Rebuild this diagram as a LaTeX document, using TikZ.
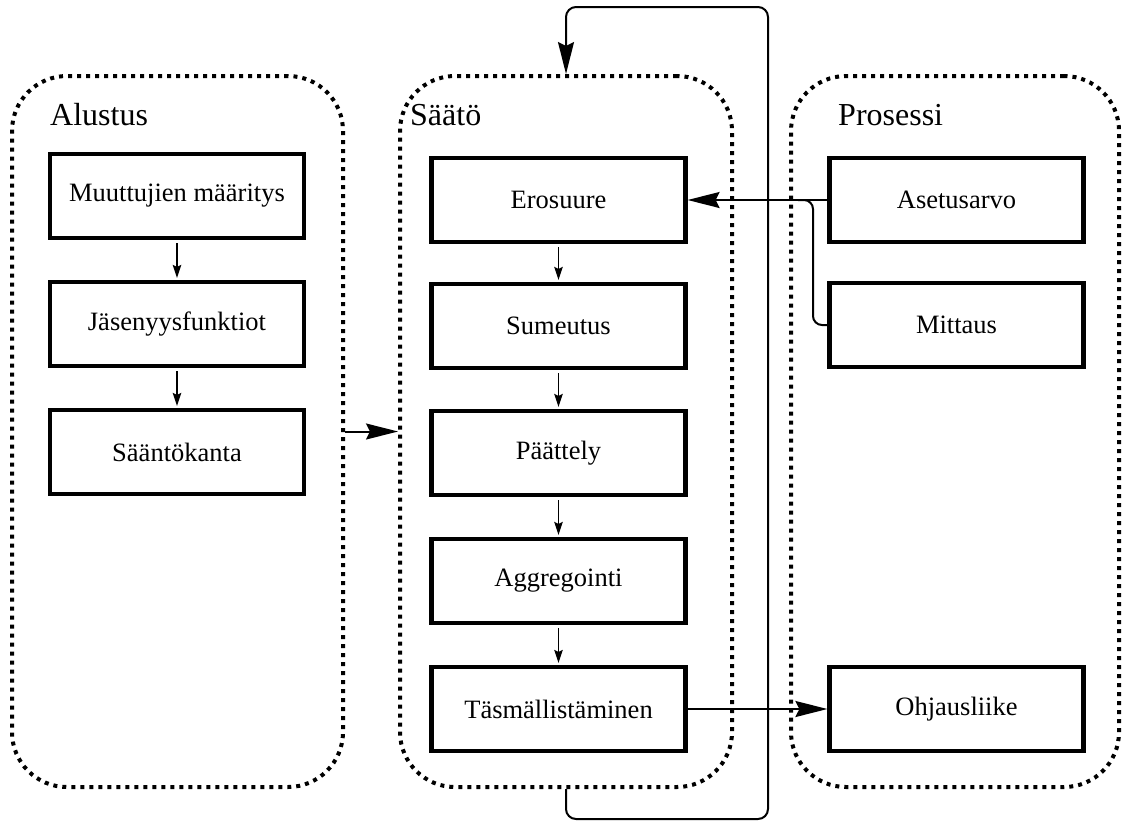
\documentclass[tikz,border=0pt]{standalone}
\usepackage{fontspec}
\setmainfont{Liberation Serif}
\usetikzlibrary{arrows.meta}
\begin{document}
\begin{tikzpicture}[x=1pt,y=-1pt,
  group/.style={draw, line width=4pt, dash pattern=on 4pt off 5pt,
    rounded corners=55pt, minimum width=#1, minimum height=711pt, inner sep=0pt},
  stage/.style={draw, line width=4.2pt, minimum width=254pt, minimum height=84pt,
    inner sep=0pt, font=\fontsize{26.5}{30}\selectfont},
  title/.style={anchor=base west, inner sep=0pt, font=\fontsize{32}{36}\selectfont},
  flow/.style={-{Stealth[length=13pt,width=8.5pt,inset=2pt]}, line width=1.5pt,
    shorten <=3pt, shorten >=2pt},
  link/.style={-{Stealth[length=32pt,width=16pt,inset=4pt]}, line width=2pt},
  feed/.style={line width=2pt},
]
\useasboundingbox (0,0) rectangle (1123,820);

% dotted groups
\node[group=331pt] (alustus) at (177.5,431.5) {};
\node[group=332pt] (saato)   at (566,431.5) {};
\node[group=328pt] (prosessi) at (955,431.5) {};

\node[title] (talustus) at (50,125) {Alustus};
\node[title] (tsaato) at (410,125) {Säätö};
\node[title] (tprosessi) at (838,125) {Prosessi};

% initialisation chain
\node[stage] (muuttujat) at (177,196) {Muuttujien määritys};
\node[stage] (jasenyys)  at (177,324) {Jäsenyysfunktiot};
\node[stage] (saannot)   at (177,452) {Sääntökanta};

% control chain
\node[stage] (erosuure) at (558.5,200) {Erosuure};
\node[stage] (sumeutus) at (558.5,326) {Sumeutus};
\node[stage] (paattely) at (558.5,453) {Päättely};
\node[stage] (aggreg)   at (558.5,581) {Aggregointi};
\node[stage] (tasm)     at (558.5,709) {Täsmällistäminen};

% process
\node[stage] (asetus)  at (956.5,200) {Asetusarvo};
\node[stage] (mittaus) at (956.5,325) {Mittaus};
\node[stage] (ohjaus)  at (956.5,709) {Ohjausliike};

\draw[flow] (muuttujat) -- (jasenyys);
\draw[flow] (jasenyys) -- (saannot);
\draw[flow] (erosuure) -- (sumeutus);
\draw[flow] (sumeutus) -- (paattely);
\draw[flow] (paattely) -- (aggreg);
\draw[flow] (aggreg) -- (tasm);

\draw[link] (alustus.east) -- (saato.west);
\draw[link] (asetus.west) -- (erosuure.east);
\draw[link] (tasm.east) -- (ohjaus.west);

% measurement joins the setpoint line
\coordinate (bend) at (813,0);
\coordinate (merge) at (798,200);
\draw[feed, rounded corners=9pt] (mittaus.west) -- (mittaus.west -| bend) |- (merge);

% loop back to the start of the control chain
\coordinate (loopr) at (768,7);
\draw[link, rounded corners=10pt] (saato.south) -- ++(0,30) -| (loopr) -| (saato.north);
\end{tikzpicture}
\end{document}
